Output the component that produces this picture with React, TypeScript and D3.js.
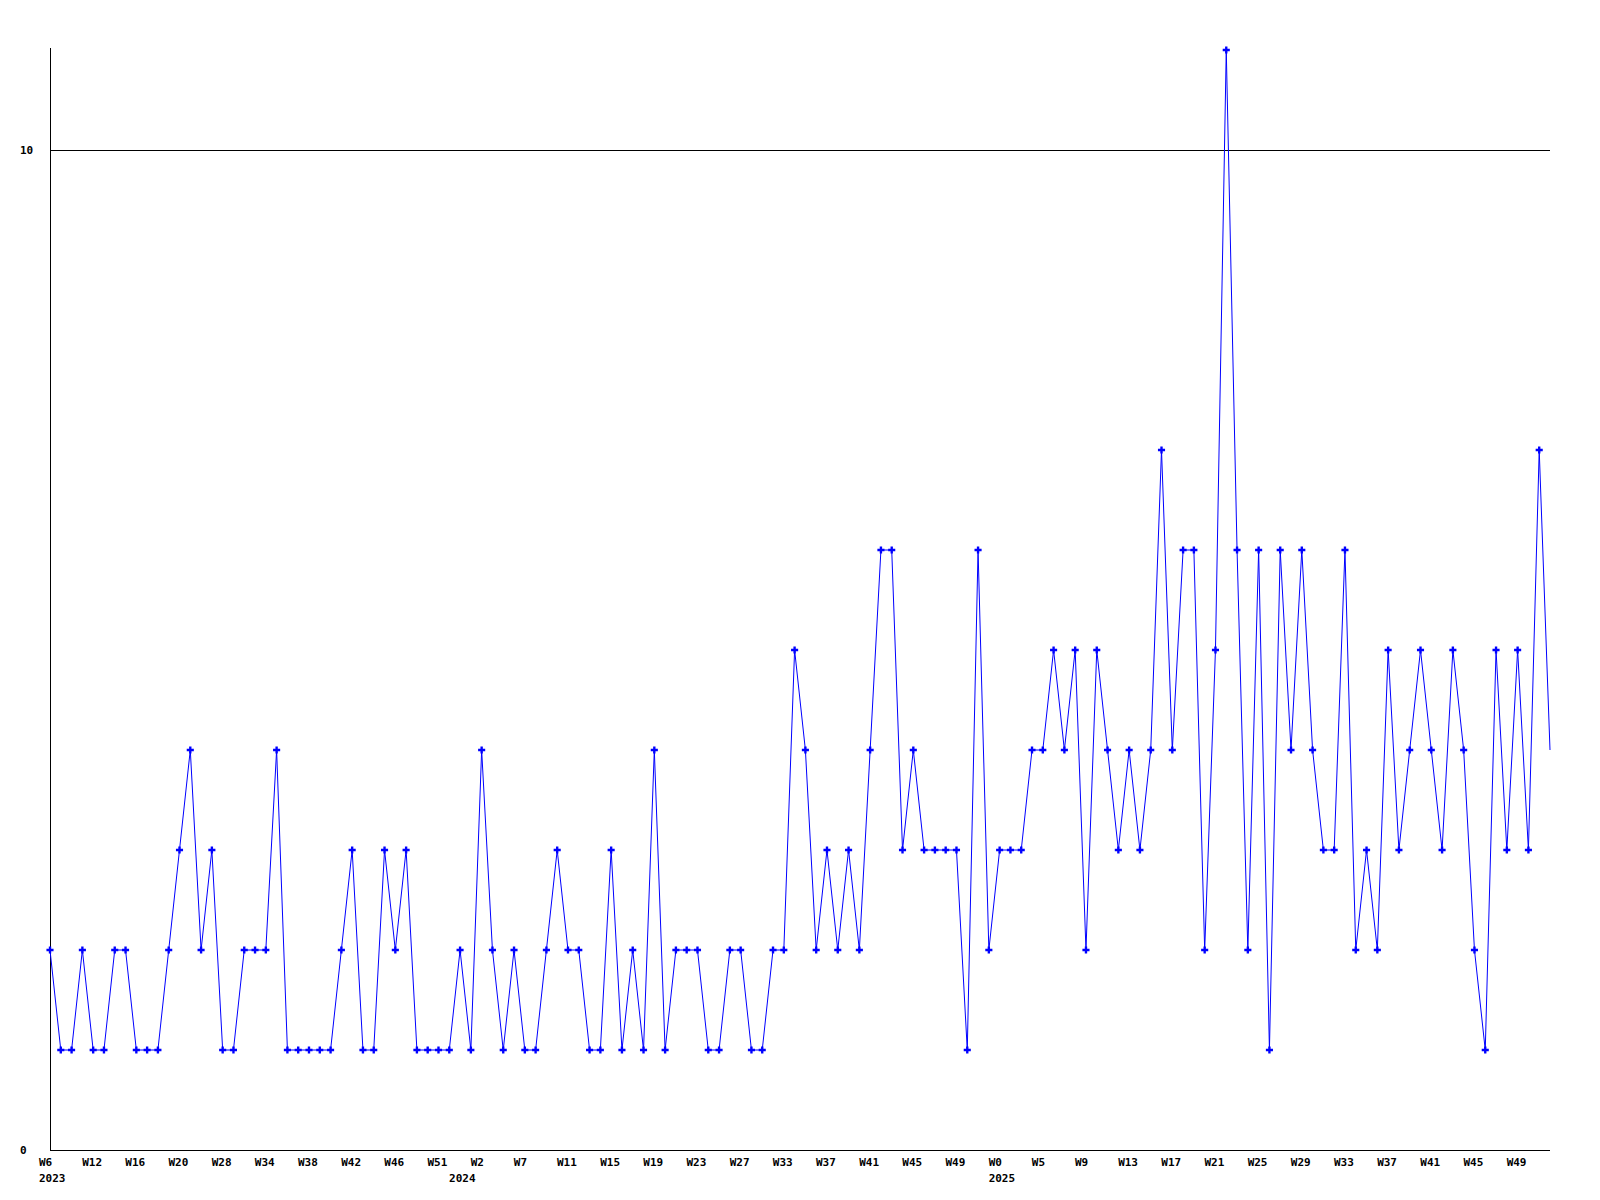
import React from "react";
import * as d3 from "d3";

// Weekly values, in order (2023 W6 … 2025 end)
const values: number[] = [
  2, 1, 1, 2, 1, 1, 2, 2, 1, 1,
  1, 2, 3, 4, 2, 3, 1, 1, 2, 2,
  2, 4, 1, 1, 1, 1, 1, 2, 3, 1,
  1, 3, 2, 3, 1, 1, 1, 1, 2, 1,
  4, 2, 1, 2, 1, 1, 2, 3, 2, 2,
  1, 1, 3, 1, 2, 1, 4, 1, 2, 2,
  2, 1, 1, 2, 2, 1, 1, 2, 2, 5,
  4, 2, 3, 2, 3, 2, 4, 6, 6, 3,
  4, 3, 3, 3, 3, 1, 6, 2, 3, 3,
  3, 4, 4, 5, 4, 5, 2, 5, 4, 3,
  4, 3, 4, 7, 4, 6, 6, 2, 5, 11,
  6, 2, 6, 1, 6, 4, 6, 4, 3, 3,
  6, 2, 3, 2, 5, 3, 4, 5, 4, 3,
  5, 4, 2, 1, 5, 3, 5, 3, 7, 4,
];

// Week tick labels (one every 4 points)
const weekLabels: string[] = [
  "W6", "W12", "W16", "W20", "W28", "W34", "W38", "W42", "W46", "W51",
  "W2", "W7", "W11", "W15", "W19", "W23", "W27", "W33", "W37", "W41",
  "W45", "W49", "W0", "W5", "W9", "W13", "W17", "W21", "W25", "W29",
  "W33", "W37", "W41", "W45", "W49",
];
const weekLabelStep = 4;

// Year labels and the point where each year starts
const yearLabels: string[] = ["2023", "2024", "2025"];
const yearStartIndex: number[] = [0, 38, 88];

// Y axis labels
const yTicks: number[] = [0, 10];
const gridValues: number[] = [10];

const W = 1600;
const H = 1200;
const FONT = "'DejaVu Sans Mono', 'Liberation Mono', monospace";

export default function App() {
  const x = d3.scaleLinear().domain([0, values.length - 1]).range([50, 1550]);
  const y = d3.scaleLinear().domain([0, 10]).range([1150, 150]);

  const line = d3
    .line<number>()
    .x((_, i) => x(i))
    .y((d) => y(d));

  const cross = d3.symbol().type(d3.symbolCross).size(28);
  const crossPath = cross() || "";

  const yTop = y(11.02);

  return (
    <svg
      width={W}
      height={H}
      style={{ position: "absolute", left: 0, top: 0, background: "#fff" }}
    >
      <rect x={0} y={0} width={W} height={H} fill="#fff" />
      {/* grid line */}
      {gridValues.map((g) => (
        <line
          key={"g" + g}
          x1={x(0)}
          x2={x(values.length - 1)}
          y1={Math.round(y(g)) + 0.5}
          y2={Math.round(y(g)) + 0.5}
          stroke="#000"
          strokeWidth={1}
          shapeRendering="crispEdges"
        />
      ))}
      {/* axes */}
      <line
        x1={x(0) + 0.5}
        x2={x(0) + 0.5}
        y1={yTop}
        y2={y(0) + 0.5}
        stroke="#000"
        strokeWidth={1}
        shapeRendering="crispEdges"
      />
      <line
        x1={x(0)}
        x2={x(values.length - 1)}
        y1={y(0) + 0.5}
        y2={y(0) + 0.5}
        stroke="#000"
        strokeWidth={1}
        shapeRendering="crispEdges"
      />
      {/* y labels */}
      {yTicks.map((t) => (
        <text
          key={"y" + t}
          x={20}
          y={y(t)}
          dy="0.35em"
          fontFamily={FONT}
          fontWeight="bold"
          fontSize={11}
          fill="#000"
        >
          {t}
        </text>
      ))}
      {/* data line */}
      <path
        d={line(values) || ""}
        fill="none"
        stroke="#0000ff"
        strokeWidth={1}
      />
      {/* markers (last point has none) */}
      {values.slice(0, values.length - 1).map((v, i) => (
        <path
          key={"m" + i}
          d={crossPath}
          transform={`translate(${x(i)},${y(v)})`}
          fill="#0000ff"
        />
      ))}
      {/* week labels */}
      {weekLabels.map((lab, k) => (
        <text
          key={"w" + k}
          x={x(k * weekLabelStep) - 11}
          y={1162}
          dy="0.35em"
          fontFamily={FONT}
          fontWeight="bold"
          fontSize={11}
          fill="#000"
        >
          {lab}
        </text>
      ))}
      {/* year labels */}
      {yearLabels.map((lab, k) => (
        <text
          key={"yr" + k}
          x={x(yearStartIndex[k]) - 11}
          y={1178}
          dy="0.35em"
          fontFamily={FONT}
          fontWeight="bold"
          fontSize={11}
          fill="#000"
        >
          {lab}
        </text>
      ))}
    </svg>
  );
}
